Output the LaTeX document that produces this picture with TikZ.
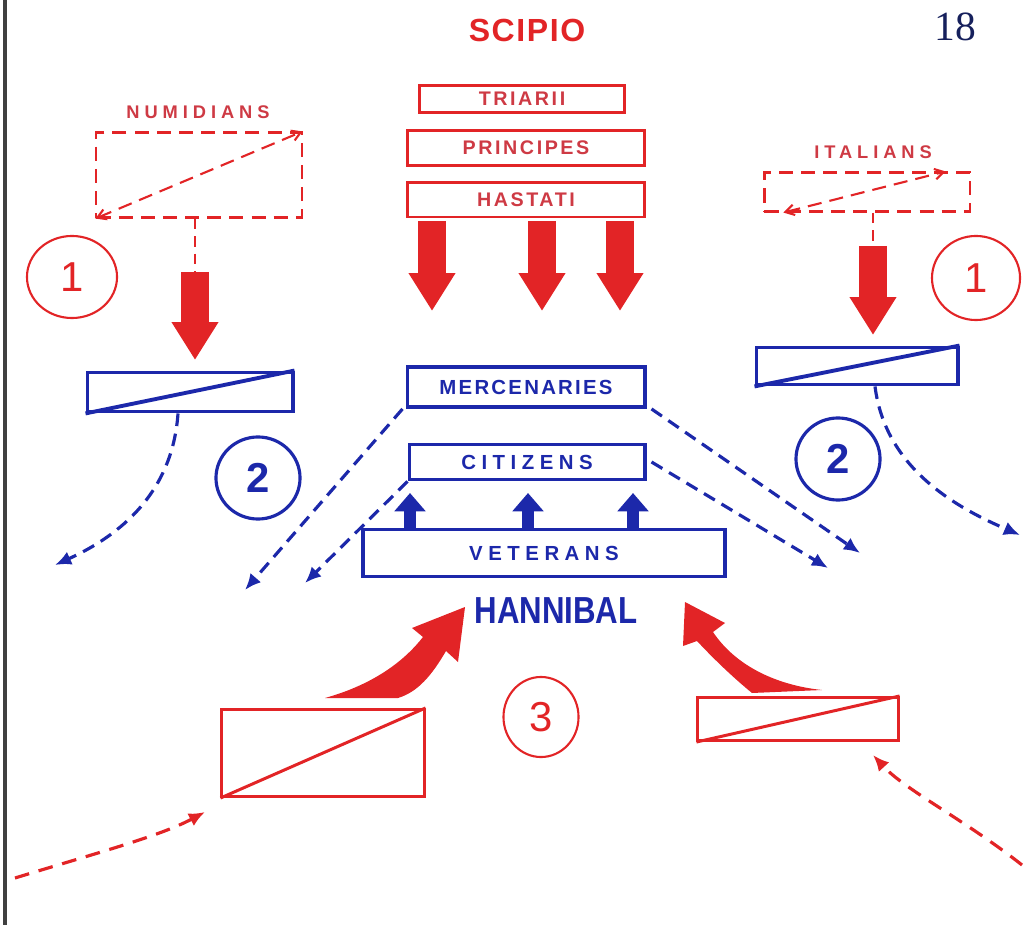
\documentclass[tikz,border=0pt]{standalone}
\usepackage{fontspec}
\usepackage{graphicx}
\usetikzlibrary{arrows.meta,shapes.geometric}
\setsansfont{Liberation Sans}
\newfontfamily\unitfont[LetterSpace=27]{Liberation Sans}
\newfontfamily\romanfont[LetterSpace=13]{Liberation Sans}
\newfontfamily\mercfont[LetterSpace=11]{Liberation Sans}
\newfontfamily\namefont[LetterSpace=5]{Liberation Sans}
\newfontfamily\pagefont{Liberation Serif}

\definecolor{zamared}{RGB}{226,36,38}
\definecolor{labelred}{RGB}{206,58,68}
\definecolor{zamablue}{RGB}{28,40,170}
\definecolor{pagenavy}{RGB}{22,32,92}

\tikzset{
    redbox/.style={draw=zamared, line width=0.85pt, inner sep=0pt, text=labelred,
        font=\romanfont\bfseries\fontsize{5.6}{6}\selectfont},
    bluebox/.style={draw=zamablue, line width=1.1pt, inner sep=0pt, text=zamablue,
        font=\unitfont\bfseries\fontsize{5.8}{6}\selectfont},
    ghostbox/.style={draw=zamared, line width=0.6pt, dash pattern=on 4pt off 2.3pt, inner sep=0pt},
    ghostdiag/.style={zamared, line width=0.6pt, dash pattern=on 4pt off 2.3pt,
        {Straight Barb[length=2.5pt,width=3pt]}-{Straight Barb[length=2.5pt,width=3pt]}},
    phase/.style={ellipse, draw, inner sep=0pt, font=\sffamily\fontsize{11.9}{12}\selectfont},
    bigred/.style={zamared, line width=8pt, -{Triangle[length=10.8pt,width=12.6pt]}},
    smallblue/.style={zamablue, line width=3.4pt, -{Triangle[length=5.2pt,width=8.6pt]}},
    bluedash/.style={zamablue, line width=0.9pt, dash pattern=on 3.6pt off 2.2pt,
        -{Latex[length=4.6pt,width=4pt]}},
    reddash/.style={zamared, line width=0.9pt, dash pattern=on 4.2pt off 2.8pt,
        -{Latex[length=4.6pt,width=4pt]}},
    fedline/.style={zamared, line width=0.8pt, dash pattern=on 3pt off 2pt}
}

\begin{document}
\begin{tikzpicture}[x=0.01cm, y=-0.01cm]
    \useasboundingbox (0,0) rectangle (1025,925);

    % page edge
    \draw[black!75, line width=0.9pt] (5,0) -- (5,925);

    % titles
    \node[text=zamared, font=\namefont\bfseries\fontsize{9.1}{10}\selectfont] (scipio) at (527,30) {SCIPIO};
    \node[text=pagenavy, font=\pagefont\fontsize{11.8}{12}\selectfont] (page) at (955,27) {18};
    \node[text=zamablue, font=\sffamily\bfseries\fontsize{10.7}{11}\selectfont] (hannibal) at (556,611)
        {\scalebox{0.83}[1]{HANNIBAL}};

    % Roman lines
    \node[redbox, minimum width=2.05cm, minimum height=0.27cm] (triarii) at (522,99) {TRIARII};
    \node[redbox, minimum width=2.37cm, minimum height=0.35cm] (principes) at (526,148) {PRINCIPES};
    \node[redbox, minimum width=2.37cm, minimum height=0.34cm] (hastati) at (526,200) {HASTATI};

    % Roman cavalry, first position
    \node[text=labelred, font=\unitfont\bfseries\fontsize{5.2}{6}\selectfont] (numlabel) at (198,112) {NUMIDIANS};
    \node[ghostbox, minimum width=2.05cm, minimum height=0.85cm] (numidians) at (199,175) {};
    \draw[ghostdiag] (numidians.south west) -- (numidians.north east);
    \node[text=labelred, font=\unitfont\bfseries\fontsize{5.2}{6}\selectfont] (itlabel) at (873,152) {ITALIANS};
    \node[ghostbox, minimum width=2.05cm, minimum height=0.39cm] (italians) at (867,192) {};
    \draw[ghostdiag] ([xshift=0.2cm]italians.south west) -- ([xshift=-0.25cm]italians.north east);

    % Carthaginian lines
    \node[bluebox, minimum width=2.37cm, minimum height=0.40cm] (mercenaries) at (526,387)
        {\mercfont\bfseries MERCENARIES};
    \node[bluebox, minimum width=2.35cm, minimum height=0.35cm] (citizens) at (527,462) {CITIZENS};
    \node[bluebox, minimum width=3.62cm, minimum height=0.47cm] (veterans) at (544,553) {VETERANS};

    % Carthaginian cavalry
    \node[bluebox, minimum width=2.05cm, minimum height=0.39cm] (cavleft) at (190,392) {};
    \draw[zamablue, line width=1.1pt] (cavleft.south west) -- (cavleft.north east);
    \node[bluebox, minimum width=2.01cm, minimum height=0.37cm] (cavright) at (857,366) {};
    \draw[zamablue, line width=1.1pt] (cavright.south west) -- (cavright.north east);

    % Roman cavalry, returning
    \node[draw=zamared, line width=0.85pt, minimum width=2.02cm, minimum height=0.87cm] (numback) at (323,753) {};
    \draw[zamared, line width=0.85pt] (numback.south west) -- (numback.north east);
    \node[draw=zamared, line width=0.85pt, minimum width=2.00cm, minimum height=0.43cm] (itback) at (798,719) {};
    \draw[zamared, line width=0.85pt] (itback.south west) -- (itback.north east);

    % phases
    \node[phase, draw=zamared, line width=0.6pt, text=zamared, minimum width=0.9cm, minimum height=0.82cm] (oneleft) at (72,277) {1};
    \node[phase, draw=zamared, line width=0.6pt, text=zamared, minimum width=0.88cm, minimum height=0.84cm] (oneright) at (976,278) {1};
    \node[phase, draw=zamablue, line width=0.9pt, text=zamablue, font=\sffamily\bfseries\fontsize{11.9}{12}\selectfont,
        minimum width=0.84cm, minimum height=0.82cm] (twoleft) at (258,478) {2};
    \node[phase, draw=zamablue, line width=0.9pt, text=zamablue, font=\sffamily\bfseries\fontsize{11.9}{12}\selectfont,
        minimum width=0.84cm, minimum height=0.82cm] (tworight) at (838,459) {2};
    \node[phase, draw=zamared, line width=0.6pt, text=zamared, minimum width=0.75cm, minimum height=0.8cm] (three) at (541,717) {3};

    % Roman advance
    \coordinate (hl) at (432,311);
    \coordinate (hm) at (542,311);
    \coordinate (hr) at (620,311);
    \draw[bigred] (hastati.south -| hl) ++(0,3) -- (hl);
    \draw[bigred] (hastati.south -| hm) ++(0,3) -- (hm);
    \draw[bigred] (hastati.south -| hr) ++(0,3) -- (hr);

    % Roman cavalry charge
    \coordinate (numstop) at (195,272);
    \coordinate (numtip) at (195,360);
    \coordinate (itstop) at (873,246);
    \coordinate (ittip) at (873,335);
    \draw[fedline] (numidians.south -| numstop) -- (numstop);
    \draw[bigred] (numstop) -- (numtip);
    \draw[fedline] (italians.south -| itstop) -- (itstop);
    \draw[bigred] (itstop) -- (ittip);

    % Carthaginian cavalry flight
    \draw[bluedash] (cavleft.south -| 178,0) .. controls (172,500) and (110,540) .. (55,565);
    \draw[bluedash] (cavright.south -| 875,0) .. controls (885,465) and (950,505) .. (1020,535);

    % veterans move up
    \draw[smallblue] (veterans.north -| 410,0) -- (410,493);
    \draw[smallblue] (veterans.north -| 528,0) -- (528,493);
    \draw[smallblue] (veterans.north -| 633,0) -- (633,493);

    % front lines fall back
    \coordinate (mfl) at (245,590);
    \coordinate (cfl) at (305,583);
    \coordinate (mfr) at (860,553);
    \coordinate (cfr) at (828,568);
    \draw[bluedash] ([xshift=-0.03cm]mercenaries.south west) -- (mfl);
    \draw[bluedash] (citizens.south west) -- (cfl);
    \draw[bluedash] ([xshift=0.05cm]mercenaries.south east) -- (mfr);
    \draw[bluedash] ([xshift=0.05cm]citizens.east) -- (cfr);

    % cavalry return and strike the rear
    \draw[reddash] (15,878) .. controls (100,852) and (160,836) .. (205,812);
    \draw[reddash] (1022,865) .. controls (965,820) and (905,790) .. (873,755);
    \fill[zamared] (325,698) .. controls (375,684) and (405,660) .. (423,637) -- (412,628) -- (465,607)
        -- (458,662) -- (446,651) .. controls (432,675) and (418,692) .. (398,698) -- cycle;
    \fill[zamared] (685,602) -- (725,623) -- (713,632) .. controls (735,665) and (775,685) .. (822,690)
        -- (752,693) .. controls (730,675) and (710,655) .. (697,641) -- (683,646) -- cycle;
\end{tikzpicture}
\end{document}
